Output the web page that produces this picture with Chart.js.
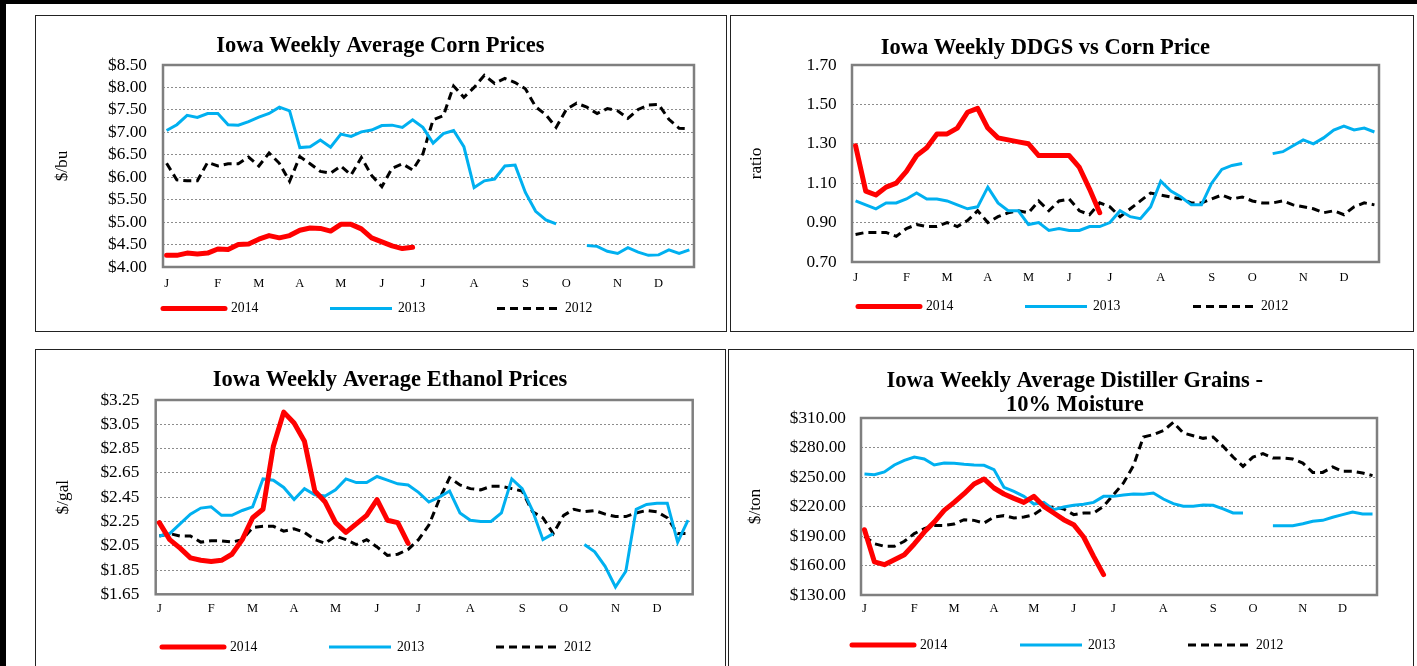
<!DOCTYPE html>
<html>
<head>
<meta charset="utf-8">
<title>Iowa weekly prices</title>
<script src="https://cdn.jsdelivr.net/npm/chart.js@4.4.1/dist/chart.umd.min.js"></script>
<style>
html, body { margin: 0; padding: 0; background: #fff; }
body { width: 1417px; height: 666px; position: relative; overflow: hidden; }
.bar { position: absolute; background: #000; }
.panel { position: absolute; border: 1px solid #222; box-sizing: border-box; background: #fff; }
.panel canvas { position: absolute; left: -1px; top: -1px; }
</style>
</head>
<body>
<div class="bar" style="left:0;top:0;width:1417px;height:4px"></div>
<div class="bar" style="left:0;top:0;width:6px;height:666px"></div>
<div class="panel" style="left:35px;top:15px;width:692px;height:317px"><canvas id="corn" width="692" height="317"></canvas></div>
<div class="panel" style="left:730px;top:15px;width:684px;height:317px"><canvas id="ddgs" width="684" height="317"></canvas></div>
<div class="panel" style="left:35px;top:349px;width:691px;height:330px"><canvas id="ethanol" width="691" height="317"></canvas></div>
<div class="panel" style="left:728px;top:349px;width:686px;height:330px"><canvas id="grains" width="686" height="317"></canvas></div>
<script>
// week numbers of the year (x categories)
var WEEKS = [1,2,3,4,5,6,7,8,9,10,11,12,13,14,15,16,17,18,19,20,21,22,23,24,25,26,
             27,28,29,30,31,32,33,34,35,36,37,38,39,40,41,42,43,44,45,46,47,48,49,50,51,52];
var MONTH_WEEKS = [1, 6, 10, 14, 18, 22, 26, 31, 36, 40, 45, 49];
var MONTH_LABELS = ['J', 'F', 'M', 'A', 'M', 'J', 'J', 'A', 'S', 'O', 'N', 'D'];
var SERIES = ['2014', '2013', '2012'];

// corn $/bu
var corn2014 = [4.26,4.26,4.31,4.29,4.31,4.40,4.39,4.50,4.51,4.62,4.70,4.65,4.70,4.82,4.87,4.86,4.80,4.95,4.95,4.85,
                4.65,4.56,4.47,4.41,4.44];
var corn2013 = [7.04,7.17,7.38,7.33,7.42,7.42,7.17,7.16,7.24,7.34,7.42,7.56,7.48,6.66,6.68,6.83,6.67,6.96,6.91,7.01,
                7.05,7.15,7.16,7.11,7.28,7.11,6.76,6.97,7.04,6.68,5.77,5.92,5.96,6.25,6.27,5.66,5.24,5.05,4.96,null,
                null,4.48,4.46,4.35,4.30,4.43,4.33,4.26,4.27,4.38,4.30,4.38];
var corn2012 = [6.31,5.94,5.92,5.92,6.33,6.25,6.30,6.30,6.45,6.25,6.54,6.31,5.91,6.46,6.30,6.13,6.09,6.25,6.05,6.44,
                6.04,5.79,6.20,6.30,6.16,6.52,7.28,7.37,8.03,7.78,8.00,8.27,8.09,8.20,8.11,7.97,7.57,7.39,7.11,7.51,
                7.65,7.56,7.42,7.53,7.48,7.31,7.51,7.61,7.62,7.29,7.09,7.08];
var cornTicks = [4.0,4.5,5.0,5.5,6.0,6.5,7.0,7.5,8.0,8.5];
var cornLabels = ['$4.00','$4.50','$5.00','$5.50','$6.00','$6.50','$7.00','$7.50','$8.00','$8.50'];

// DDGS vs corn ratio
var ddgs2014 = [1.29,1.06,1.04,1.08,1.10,1.16,1.24,1.28,1.35,1.35,1.38,1.46,1.48,1.38,1.33,1.32,1.31,1.30,1.24,1.24,
                1.24,1.24,1.18,1.07,0.95];
var ddgs2013 = [1.01,0.99,0.97,1.00,1.00,1.02,1.05,1.02,1.02,1.01,0.99,0.97,0.98,1.08,1.00,0.96,0.96,0.89,0.90,0.86,
                0.87,0.86,0.86,0.88,0.88,0.90,0.96,0.93,0.92,0.98,1.11,1.06,1.03,0.99,0.99,1.10,1.17,1.19,1.20,null,
                null,1.25,1.26,1.29,1.32,1.30,1.33,1.37,1.39,1.37,1.38,1.36];
var ddgs2012 = [0.84,0.85,0.85,0.85,0.83,0.87,0.89,0.88,0.88,0.90,0.88,0.91,0.96,0.90,0.93,0.95,0.96,0.95,1.01,0.96,
                1.01,1.02,0.96,0.94,1.00,0.98,0.93,0.97,1.01,1.05,1.04,1.03,1.02,1.00,1.00,1.02,1.04,1.02,1.03,1.01,
                1.00,1.00,1.01,0.99,0.98,0.97,0.95,0.96,0.94,0.98,1.00,0.99];
var ddgsTicks = [0.7,0.9,1.1,1.3,1.5,1.7];
var ddgsLabels = ['0.70','0.90','1.10','1.30','1.50','1.70'];

// ethanol $/gal
var eth2014 = [2.24,2.10,2.03,1.95,1.93,1.92,1.93,1.98,2.10,2.28,2.35,2.87,3.15,3.06,2.91,2.50,2.41,2.24,2.16,2.23,
               2.30,2.43,2.26,2.24,2.07];
var eth2013 = [2.13,2.15,2.23,2.31,2.36,2.37,2.30,2.30,2.34,2.37,2.60,2.59,2.53,2.43,2.52,2.47,2.46,2.51,2.60,2.57,
               2.57,2.62,2.59,2.56,2.55,2.49,2.41,2.45,2.50,2.32,2.26,2.25,2.25,2.32,2.60,2.52,2.34,2.10,2.15,null,
               null,2.06,2.00,1.88,1.71,1.84,2.35,2.39,2.40,2.40,2.08,2.26];
var eth2012 = [2.13,2.15,2.13,2.13,2.08,2.09,2.09,2.08,2.10,2.20,2.21,2.21,2.17,2.19,2.16,2.10,2.07,2.13,2.10,2.06,
               2.10,2.04,1.97,1.98,2.02,2.10,2.22,2.43,2.61,2.55,2.52,2.51,2.54,2.54,2.52,2.50,2.33,2.28,2.15,2.30,
               2.35,2.33,2.34,2.31,2.29,2.29,2.32,2.34,2.33,2.28,2.15,2.15];
var ethTicks = [1.65,1.85,2.05,2.25,2.45,2.65,2.85,3.05,3.25];
var ethLabels = ['$1.65','$1.85','$2.05','$2.25','$2.45','$2.65','$2.85','$3.05','$3.25'];

// distillers grains 10% moisture $/ton
var dg2014 = [196.4,163.6,160.8,165.9,171.0,181.9,194.0,204.2,216.1,224.2,233.0,242.9,248.0,238.8,232.7,228.3,224.2,
              230.3,220.2,213.4,206.6,201.5,189.0,169.3,150.7];
var dg2013 = [253.0,252.4,255.1,262.2,266.9,270.3,268.3,262.2,264.2,263.9,262.9,262.2,261.9,257.5,239.5,235.4,230.3,
              222.5,224.2,216.8,219.5,221.2,222.2,224.2,230.3,230.3,231.7,232.7,232.4,233.7,227.6,222.9,220.2,220.2,
              221.5,221.2,217.5,213.4,213.4,null,null,200.5,200.5,200.5,202.5,204.9,205.9,209.0,211.7,214.4,212.4,212.4];
var dg2012 = [189.7,182.2,179.5,179.5,184.6,192.4,197.5,200.8,200.8,202.2,206.6,205.9,203.2,209.3,210.7,208.3,209.3,
              211.7,218.5,219.5,217.5,211.7,213.4,213.4,220.2,232.0,243.9,261.5,290.7,293.1,297.1,305.6,294.7,292.0,
              289.3,290.7,281.2,270.3,260.8,270.3,273.7,269.3,269.3,268.3,264.2,254.7,254.7,260.2,255.8,255.8,254.1,251.4];
var dgTicks = [130,160,190,220,250,280,310];
var dgLabels = ['$130.00','$160.00','$190.00','$220.00','$250.00','$280.00','$310.00'];

var FONT = "'Liberation Serif', 'Times New Roman', serif";

var plotFrame = {
    id: 'plotFrame',
    beforeDatasetsDraw: function(chart) {
        var a = chart.chartArea, ctx = chart.ctx;
        ctx.save();
        ctx.strokeStyle = '#7f7f7f';
        ctx.lineWidth = 2.5;
        ctx.strokeRect(a.left, a.top, a.right - a.left, a.bottom - a.top);
        ctx.restore();
    }
};

// legend drawn as a line sample + label, like the spreadsheet one
var lineLegend = {
    id: 'lineLegend',
    afterDraw: function(chart, args, opts) {
        var ctx = chart.ctx;
        ctx.save();
        chart.data.datasets.forEach(function(ds, i) {
            var x = opts.x[i], y = opts.y;
            ctx.beginPath();
            ctx.setLineDash(ds.borderDash || []);
            ctx.lineWidth = ds.borderWidth;
            ctx.strokeStyle = ds.borderColor;
            ctx.lineCap = ds.borderCapStyle || 'butt';
            ctx.moveTo(x, y);
            ctx.lineTo(x + 62, y);
            ctx.stroke();
            ctx.setLineDash([]);
            ctx.fillStyle = '#000';
            ctx.font = '13.7px ' + FONT;
            ctx.textBaseline = 'middle';
            ctx.fillText(ds.label, x + 68, y);
        });
        ctx.restore();
    }
};

function toXY(values) {
    return values.map(function(v, i) { return {x: WEEKS[i], y: v}; });
}

function makeChart(id, c) {
    var n = c.ticks.length;
    return new Chart(document.getElementById(id), {
        type: 'line',
        data: {
            datasets: [
                {label: SERIES[0], data: toXY(c.s14), borderColor: '#ff0000', borderWidth: 5,
                 borderCapStyle: 'round', borderJoinStyle: 'round'},
                {label: SERIES[1], data: toXY(c.s13), borderColor: '#00b0f0', borderWidth: 3},
                {label: SERIES[2], data: toXY(c.s12), borderColor: '#000000', borderWidth: 3, borderDash: [8, 5]}
            ]
        },
        plugins: [plotFrame, lineLegend],
        options: {
            responsive: false,
            animation: false,
            events: [],
            elements: { point: { radius: 0 }, line: { tension: 0, fill: false } },
            layout: { padding: { left: c.padL, right: c.padR, top: 0, bottom: 0 } },
            plugins: {
                legend: { display: false },
                tooltip: { enabled: false },
                title: {
                    display: true,
                    text: c.title,
                    color: '#000',
                    font: { family: FONT, size: 22.5, weight: 'bold', lineHeight: 1.08 },
                    padding: { top: c.tTop, bottom: c.tBot }
                },
                lineLegend: { x: c.legX, y: c.legY }
            },
            scales: {
                x: {
                    type: 'linear',
                    min: 0.65,
                    max: 52.45,
                    grid: { display: false, drawTicks: false },
                    border: { display: false },
                    afterBuildTicks: function(a) {
                        a.ticks = MONTH_WEEKS.map(function(w) { return {value: w}; });
                    },
                    afterFit: function(a) { a.height = c.xh; },
                    ticks: {
                        autoSkip: false,
                        maxRotation: 0,
                        padding: c.xpad,
                        color: '#000',
                        font: { family: FONT, size: 12.5 },
                        callback: function(v, i) { return MONTH_LABELS[i]; }
                    }
                },
                y: {
                    min: c.ticks[0],
                    max: c.ticks[n - 1],
                    afterBuildTicks: function(a) {
                        a.ticks = c.ticks.map(function(v) { return {value: v}; });
                    },
                    afterFit: function(a) { a.width = c.yw; },
                    grid: {
                        drawTicks: false,
                        lineWidth: 1,
                        color: function(g) {
                            return (g.index === 0 || g.index === n - 1) ? 'rgba(0,0,0,0)' : '#8c8c8c';
                        }
                    },
                    border: { display: false, dash: [2, 2] },
                    ticks: {
                        autoSkip: false,
                        padding: c.ypad,
                        color: '#000',
                        font: { family: FONT, size: 17.3 },
                        callback: function(v, i) { return c.labels[i]; }
                    },
                    title: {
                        display: true,
                        text: c.yTitle,
                        color: '#000',
                        font: { family: FONT, size: 17.3 },
                        padding: { top: c.ytp, bottom: 0 }
                    }
                }
            }
        }
    });
}

makeChart('corn', {
    title: 'Iowa Weekly Average Corn Prices', yTitle: '$/bu',
    s14: corn2014, s13: corn2013, s12: corn2012, ticks: cornTicks, labels: cornLabels,
    padL: 31.6, padR: 33, yw: 96.4, ypad: 16, ytp: -15, xh: 65, xpad: 8.8,
    tTop: 18.85, tBot: 6.85, legX: [128, 295, 462], legY: 293.5
});
makeChart('ddgs', {
    title: 'Iowa Weekly DDGS vs Corn Price', yTitle: 'ratio',
    s14: ddgs2014, s13: ddgs2013, s12: ddgs2012, ticks: ddgsTicks, labels: ddgsLabels,
    padL: -18.4, padR: 35, yw: 140.4, ypad: 15.3, ytp: 34, xh: 70, xpad: 7.8,
    tTop: 20.85, tBot: 4.85, legX: [128, 295, 463], legY: 291.5
});
makeChart('ethanol', {
    title: 'Iowa Weekly Average Ethanol Prices', yTitle: '$/gal',
    s14: eth2014, s13: eth2013, s12: eth2012, ticks: ethTicks, labels: ethLabels,
    padL: 52.3, padR: 33.3, yw: 68.4, ypad: 16.4, ytp: -34.4, xh: 71.7, xpad: 6.5,
    tTop: 18.85, tBot: 7.85, legX: [127, 294, 461], legY: 298
});
makeChart('grains', {
    title: ['Iowa Weekly Average Distiller Grains -', '10% Moisture'], yTitle: '$/ton',
    s14: dg2014, s13: dg2013, s12: dg2012, ticks: dgTicks, labels: dgLabels,
    padL: 44.6, padR: 37, yw: 88.4, ypad: 15, ytp: -28, xh: 71, xpad: 6.5,
    tTop: 19.55, tBot: 0.85, legX: [124, 292, 460], legY: 296
});
</script>
</body>
</html>
